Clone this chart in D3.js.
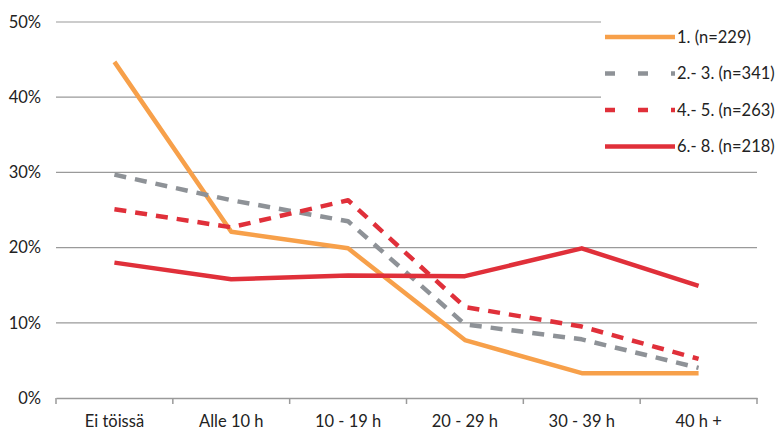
<!DOCTYPE html>
<html><head><meta charset="utf-8">
<script src="https://cdn.jsdelivr.net/npm/d3@7"></script>
<style>body{margin:0;background:#fff;} svg{display:block;}</style>
</head><body>
<svg id="c" width="780" height="434"></svg>
<script>
const categories = ["Ei töissä", "Alle 10 h", "10 - 19 h", "20 - 29 h", "30 - 39 h", "40 h +"];
const yTicks = [0, 10, 20, 30, 40, 50];
const seriesNames = ["1. (n=229)", "2.- 3. (n=341)", "4.- 5. (n=263)", "6.- 8. (n=218)"];
const s1 = [44.7, 22.1, 19.9, 7.7, 3.3, 3.3];
const s23 = [29.7, 26.3, 23.5, 9.8, 7.8, 4.0];
const s45 = [25.1, 22.7, 26.3, 12.1, 9.5, 5.2];
const s68 = [18.0, 15.8, 16.3, 16.2, 19.9, 14.9];
const seriesValues = [s1, s23, s45, s68];
const colors = ["#F7A04A", "#8E9297", "#E0303A", "#E0303A"];
const dashes = [null, "12,9", "12,9", null];

const svg = d3.select("#c");
const mLeft = 56, mRight = 757, mTop = 22, mBottom = 398;
const x = d3.scaleBand().domain(categories).range([mLeft, mRight]);
const y = d3.scaleLinear().domain([0, 50]).range([mBottom, mTop]);
const font = "Lato, 'Open Sans', sans-serif";
const fs = 16.5;

// gridlines
svg.append("g").selectAll("line").data(yTicks.filter(d => d > 0)).join("line")
  .attr("x1", mLeft).attr("x2", d => d >= 40 ? 601 : mRight)
  .attr("y1", d => y(d)).attr("y2", d => y(d))
  .attr("stroke", "#9a9a9a").attr("stroke-width", 1.2);

// y labels
svg.append("g").selectAll("text").data(yTicks).join("text")
  .attr("x", 41).attr("y", d => y(d)).attr("dy", "0.35em")
  .attr("text-anchor", "end").attr("font-family", font).attr("font-size", fs)
  .attr("fill", "#222").text(d => d + "%");

// x axis
const xAxis = d3.axisBottom(x).tickSize(0).tickSizeOuter(0).tickPadding(17);
const gx = svg.append("g").attr("transform", `translate(0,${mBottom})`).call(xAxis);
gx.select(".domain").attr("stroke", "#9a9a9a").attr("stroke-width", 1.5);
gx.selectAll("text").attr("font-family", font).attr("font-size", fs).attr("fill", "#222");
const bounds = categories.map(c => x(c)).concat([mRight]);
gx.selectAll(".sep").data(bounds).join("line").attr("class", "sep")
  .attr("x1", d => d).attr("x2", d => d).attr("y1", 0).attr("y2", 6)
  .attr("stroke", "#9a9a9a").attr("stroke-width", 1.5);

// lines
const line = d3.line().x((d, i) => x(categories[i]) + x.bandwidth() / 2).y(d => y(d));
seriesValues.forEach((vals, k) => {
  svg.append("path").datum(vals).attr("d", line)
    .attr("fill", "none").attr("stroke", colors[k]).attr("stroke-width", 4.5)
    .attr("stroke-linejoin", "round")
    .attr("stroke-dasharray", dashes[k]);
});

// legend
const lg = svg.append("g");
seriesNames.forEach((n, k) => {
  const ly = 37 + k * 36.5;
  lg.append("line").attr("x1", 605).attr("x2", 675).attr("y1", ly).attr("y2", ly)
    .attr("stroke", colors[k]).attr("stroke-width", 4.5)
    .attr("stroke-dasharray", dashes[k] ? "10,23" : null);
  lg.append("text").attr("x", 677).attr("y", ly).attr("dy", "0.35em")
    .attr("font-family", font).attr("font-size", fs).attr("fill", "#222").text(n);
});
</script>
</body></html>
